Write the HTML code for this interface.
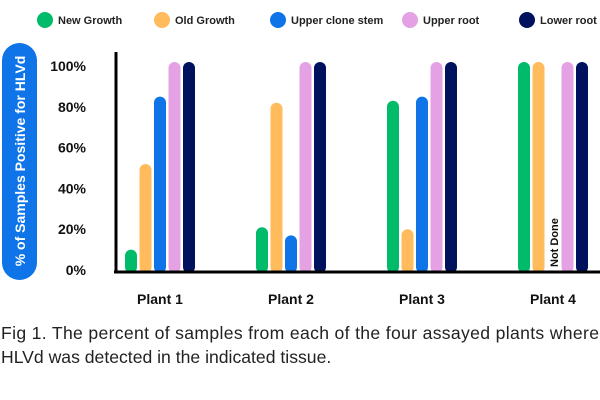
<!DOCTYPE html>
<html><head><meta charset="utf-8"><style>
body{margin:0;background:#fff;width:600px;height:400px;overflow:hidden;font-family:"Liberation Sans",sans-serif}
</style></head><body>
<svg id="chart" width="600" height="400" style="position:absolute;left:0;top:0">
<rect x="2" y="43" width="35" height="237" rx="17.5" fill="#0e74e8"/>
<text transform="translate(25,161) rotate(-90)" text-anchor="middle" fill="#fff" font-weight="bold" font-size="14">% of Samples Positive for HLVd</text>
<g id="legend"></g><g id="yticks"></g><g id="bars"></g><g id="xlabels"></g>
<line x1="116" y1="52" x2="116" y2="273" stroke="#000" stroke-width="3"/>
<line x1="114" y1="272" x2="600" y2="272" stroke="#000" stroke-width="3"/>
<text x="1" y="339" font-size="17.6" fill="#222" textLength="598">Fig 1. The percent of samples from each of the four assayed plants where</text>
<text x="1" y="363" font-size="17.6" fill="#222">HLVd was detected in the indicated tissue.</text>
</svg>
<script>
const categories=["Plant 1","Plant 2","Plant 3","Plant 4"];
const seriesNames=["New Growth","Old Growth","Upper clone stem","Upper root","Lower root"];
const newGrowth=[8,19,81,100];
const oldGrowth=[50,80,18,100];
const upperStem=[83,15,83,null];
const upperRoot=[100,100,100,100];
const lowerRoot=[100,100,100,100];
const yTicks=[0,20,40,60,80,100];
const series=[newGrowth,oldGrowth,upperStem,upperRoot,lowerRoot];
const colors=["#00bb6a","#ffbb5c","#0e74e8","#e4a1e3","#00125e"];
const NS="http://www.w3.org/2000/svg";
function y(v){return 270-v*2.04;}
function gx(i){return 160+i*131;}
function mk(t,a,p){const e=document.createElementNS(NS,t);for(const k in a)e.setAttribute(k,a[k]);document.getElementById(p).appendChild(e);return e;}
const lx=[45,162,278,410,527];
seriesNames.forEach((n,i)=>{
 const c=mk("circle",{cx:lx[i],cy:20,r:8,fill:colors[i]},"legend");
 
 
 const t=mk("text",{x:lx[i]+13,y:24,"font-size":"11","font-weight":"bold",fill:"#222"},"legend");
 t.textContent=n;
 
 
});
yTicks.forEach(v=>{
 const t=mk("text",{x:86,y:y(v)+5,"text-anchor":"end","font-size":"14","font-weight":"bold",fill:"#111"},"yticks");
 t.textContent=v+"%";
 
 
});
categories.forEach((c,i)=>{
 series.forEach((s,j)=>{
  const x=gx(i)+(j-2)*14.5-6;
  const v=s[i];
  if(v==null){
   const t=mk("text",{transform:`translate(${x+11},${y(0)-3}) rotate(-90)`,"font-size":"11","font-weight":"bold",fill:"#111"},"bars");
   t.textContent="Not Done";
   
   
   return;
  }
  const top=y(v)-4;
  const b=mk("rect",{x:x,y:top,width:12,height:273-top,rx:6,fill:colors[j]},"bars");
  
  
 });
 const t=mk("text",{x:gx(i),y:304,"text-anchor":"middle","font-size":"14","font-weight":"bold",fill:"#111"},"xlabels");
 t.textContent=c;
 
 
});
</script>
</body></html>
